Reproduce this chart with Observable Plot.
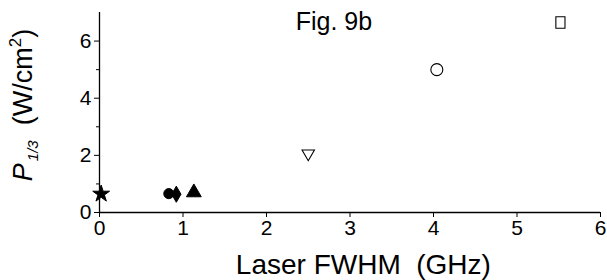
<!DOCTYPE html>
<html>
<head>
<meta charset="utf-8">
<script src="https://cdn.jsdelivr.net/npm/d3@7"></script>
<script src="https://cdn.jsdelivr.net/npm/@observablehq/plot@0.6"></script>
<style>
  html, body { margin: 0; padding: 0; background: #fff; }
  #chart { width: 607px; height: 280px; }
</style>
</head>
<body>
<div id="chart"></div>
<script>
// Data
const fwhm   = [0.02, 0.83, 0.92, 1.13, 2.5, 4.04, 5.52];
const p13    = [0.65, 0.66, 0.64, 0.70, 2.0, 5.0, 6.65];
const shapes = ["star", "circle", "diamond", "triangle", "invtriangle", "circle", "square"];
const filled = [true, true, true, true, false, false, false];
const sizes  = [88, 80, 75, 95, 200, 113, 115];
const xTicks = [0, 1, 2, 3, 4, 5, 6];
const yTicks = [0, 2, 4, 6];
const yMinor = [1, 3, 5];
const title = "Fig. 9b";
const xLabel = "Laser FWHM  (GHz)";

const invTriangle = {
  draw(context, size) {
    const s = Math.sqrt(size / (Math.sqrt(3) * 0.75));
    const h = s * Math.sqrt(3) / 2;
    context.moveTo(-s / 2, -h / 2);
    context.lineTo(s / 2, -h / 2);
    context.lineTo(0, h / 2);
    context.closePath();
  }
};
const rectSymbol = {
  draw(context, size) {
    const w = Math.sqrt(size) * 0.85, h = Math.sqrt(size) * 1.08;
    context.rect(-w / 2, -h / 2, w, h);
  }
};
const symbolFor = name => name === "invtriangle" ? invTriangle : name === "square" ? rectSymbol : name;

const data = fwhm.map((x, i) => ({x, y: p13[i], shape: shapes[i], filled: filled[i], size: sizes[i]}));

const font = "Liberation Sans, Arial, sans-serif";
const plot = Plot.plot({
  width: 607,
  height: 280,
  marginLeft: 99,
  marginRight: 7,
  marginTop: 12,
  marginBottom: 68,
  style: {fontFamily: font, fontSize: "21px", color: "#000", background: "#fff", overflow: "visible"},
  x: {type: "linear", domain: [0, 6], axis: null},
  y: {type: "linear", domain: [0, 7], axis: null},
  marks: [
    Plot.ruleY([0], {stroke: "#000", strokeWidth: 1.3}),
    Plot.ruleX([0], {stroke: "#000", strokeWidth: 1.3}),
    Plot.axisX({ticks: xTicks, tickSize: 5, tickPadding: 3, fontSize: 21, stroke: "#000", strokeOpacity: 1, label: null, tickFormat: d => d}),
    Plot.axisY({ticks: yTicks, tickSize: 5, tickPadding: 3, fontSize: 21, stroke: "#000", strokeOpacity: 1, label: null, tickFormat: d => d}),
    Plot.axisY({ticks: yMinor, tickSize: 3, stroke: "#000", strokeOpacity: 1, label: null, tickFormat: () => ""}),
    ...data.map(d => Plot.dot([d], {
      x: "x", y: "y",
      symbol: symbolFor(d.shape),
      r: Math.sqrt(d.size / Math.PI),
      fill: d.filled ? "#000" : "none",
      stroke: "#000",
      strokeWidth: d.filled ? 1 : 1.1
    })),
    Plot.text([title], {x: 2.35, y: 6.66, fontSize: 25, textAnchor: "start", fill: "#000", text: d => d}),
    Plot.text([xLabel], {x: 3.16, y: 0, dy: 53, fontSize: 28, fill: "#000", text: d => d})
  ]
});
document.getElementById("chart").appendChild(plot);

// Y axis label with italic P, subscript and superscript
const svg = d3.select(plot);
const lab = svg.append("text")
  .attr("transform", "translate(32,105) rotate(-90)")
  .attr("text-anchor", "middle")
  .attr("font-family", font)
  .attr("font-size", 27)
  .attr("fill", "#000");
lab.append("tspan").attr("font-style", "italic").text("P");
lab.append("tspan").attr("font-style", "italic").attr("font-size", 15).attr("dx", 2).attr("dy", 6).text("1/3");
lab.append("tspan").attr("dy", -6).text("  (W/cm");
lab.append("tspan").attr("font-size", 17).attr("dy", -11).text("2");
lab.append("tspan").attr("dy", 11).text(")");
</script>
</body>
</html>
